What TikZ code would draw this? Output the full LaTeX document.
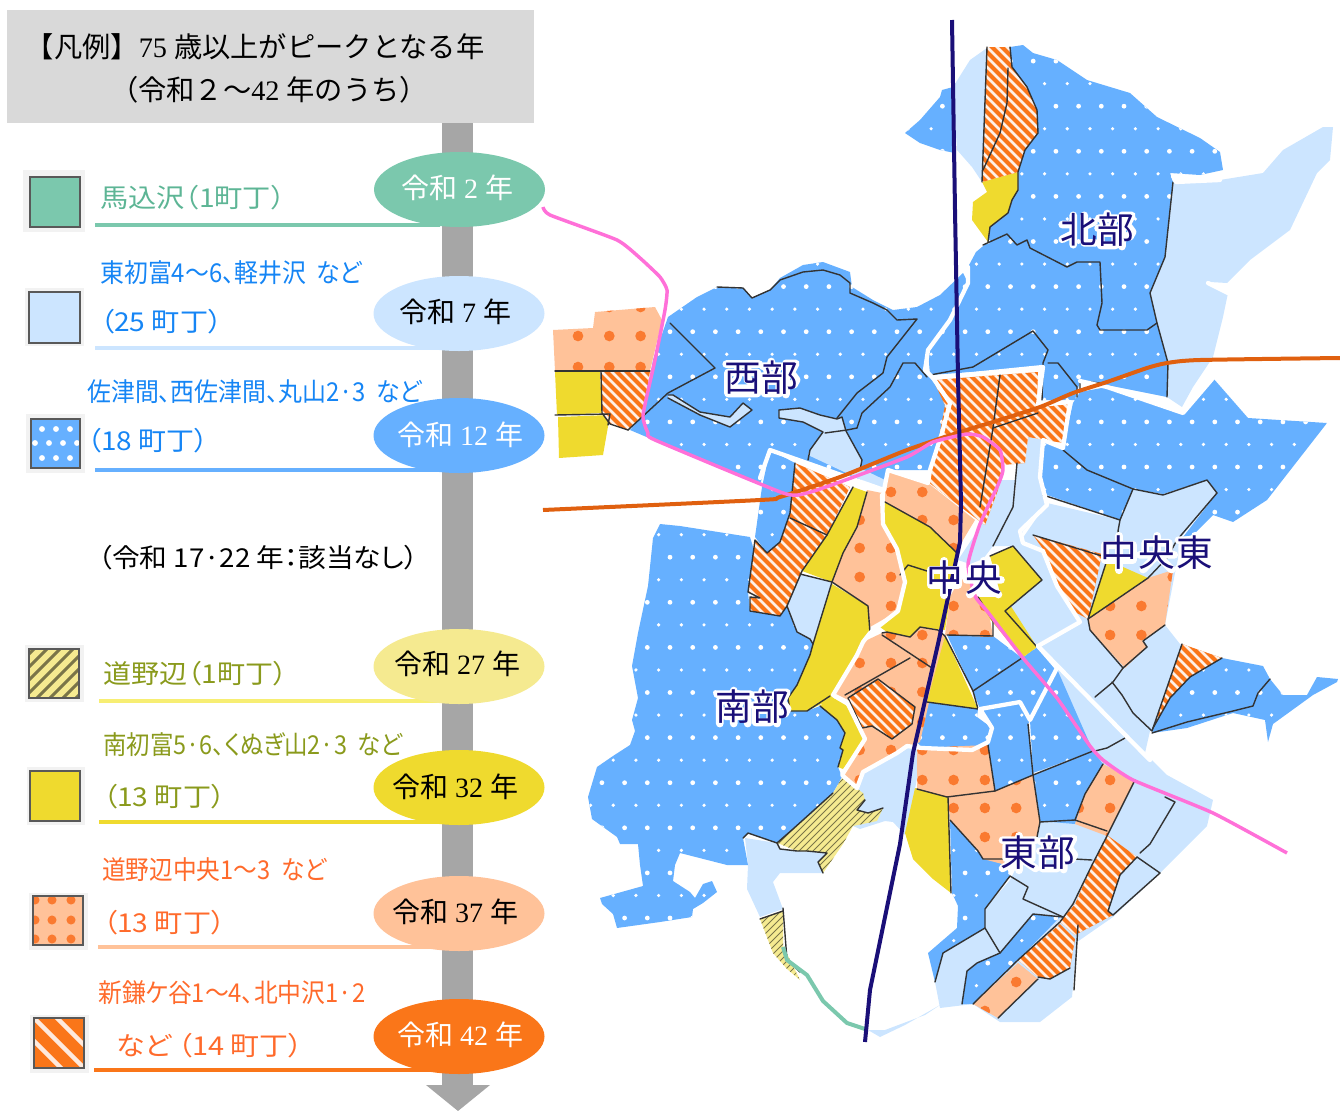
\documentclass[tikz,border=0pt]{standalone}
\usepackage{fontspec}
\usepackage{graphicx}
\setmainfont{Liberation Serif}
\newfontfamily\jp{Noto Sans CJK JP}
\newfontfamily\jpp[RawFeature=+palt]{Noto Sans CJK JP}
\definecolor{cGreen}{HTML}{7BC8AD}
\definecolor{cLight}{HTML}{CCE5FF}
\definecolor{cBlue}{HTML}{66B0FF}
\definecolor{cPaleY}{HTML}{F5EA90}
\definecolor{cYellow}{HTML}{EFDA2E}
\definecolor{cPaleO}{HTML}{FFC299}
\definecolor{cOrange}{HTML}{FA7619}
\definecolor{cDot}{HTML}{FA7A30}
\definecolor{cNavy}{HTML}{1A0F78}
\definecolor{cRoad}{HTML}{E0600F}
\definecolor{cPink}{HTML}{FF70D8}
\definecolor{cTrunk}{HTML}{A6A6A6}
\definecolor{cHead}{HTML}{D9D9D9}
\definecolor{tGreen}{HTML}{5DB595}
\definecolor{tBlue}{HTML}{1585F5}
\definecolor{tOlive}{HTML}{8A9A1C}
\definecolor{tOrange}{HTML}{FF6A2B}
\newcommand\pg[1]{plot[sharp plot] coordinates {#1} -- cycle}
\newcommand\bl[1]{\draw[mapline] plot[sharp plot] coordinates {#1};}
\newcommand\wl[1]{\draw[wline] plot[sharp plot] coordinates {#1};}
\newcommand\J[1]{{\jp #1}}
% ---------- map regions
\newcommand\lightA{
 \pg{(953,87)(970,60)(987,48)(982,182)(972,167)(957,150)}
 \pg{(1173,182)(1220,180)(1263,173)(1283,150)(1323,127)(1333,127)(1330,160)(1317,173)(1290,230)(1250,260)(1227,283)(1210,282)(1228,293)(1223,317)(1213,357)(1193,387)(1182,407)(1167,397)(1168,363)(1157,323)(1150,293)(1165,257)}
 \pg{(1047,503)(1120,520)(1133,489)(1163,494)(1207,480)(1217,493)(1183,535)(1175,573)(1165,625)(1180,644)(1222,658)(1150,731)(1145,753)(1167,775)(1213,800)(1207,826)(1160,873)(1113,917)(1077,942)(1072,997)(1040,1022)(1000,1022)(973,1004)(940,1008)(935,982)(943,953)(985,928)(985,909)(1010,880)(1040,820)(1040,740)(1057,669)(1038,646)(1080,622)(1057,586)(1043,551)(1020,542)}
 \pg{(940,1005)(905,1025)(880,1037)(868,1030)(885,1030)(925,1015)}
 \pg{(858,791)(863,772)(897,755)(913,745)(923,746)(915,789)(905,835)(893,822)(885,821)(860,829)(853,826)}
 \pg{(745,838)(777,843)(780,849)(797,851)(827,853)(818,862)(823,873)(780,873)(773,882)(783,909)(760,917)(747,889)(748,865)}
 \pg{(800,574)(832,582)(813,644)(810,639)(797,632)(787,606)}
}
\newcommand\lightB{
 \pg{(668,395)(673,395)(700,412)(730,417)(743,403)(752,410)(730,427)(700,415)(668,398)}
 \pg{(779,410)(800,408)(820,415)(837,419)(842,417)(846,431)(862,460)(860,468)(885,480)(887,492)(840,470)(808,455)(810,450)(823,433)(803,422)(779,418)}
 \pg{(958,560)(980,527)(987,502)(997,480)(1015,480)(1015,502)(993,546)(983,559)(970,564)}
 \pg{(1017,463)(1025,463)(1028,437)(1043,440)(1040,477)(1047,505)(1023,531)(1020,542)(1043,551)(1057,586)(1080,622)(1038,646)(1005,611)(1042,580)(1013,546)(993,546)(1015,502)}
}
\newcommand\blueregs{
 \pg{(668,317)(697,297)(717,287)(743,288)(752,298)(770,290)(780,278)(803,265)(823,262)(850,272)(852,287)(873,300)(893,310)(917,307)(940,295)(963,273)(968,283)(950,320)(928,350)(925,370)(933,378)(950,403)(942,433)(930,470)(888,470)(884,490)(770,450)(760,485)(630,430)(643,415)(653,360)}
 \pg{(1010,47)(1023,45)(1033,53)(1057,60)(1087,80)(1130,93)(1157,117)(1200,138)(1220,152)(1223,170)(1200,175)(1170,173)(1173,182)(1165,257)(1150,293)(1157,323)(1168,363)(1167,397)(1107,385)(1080,381)(1075,400)(1042,400)(1043,367)(930,375)(928,350)(950,320)(968,283)(968,267)(976,252)(988,242)(990,227)(1008,213)(1012,200)(1018,190)(1018,172)(1025,150)(1038,133)(1037,110)(1027,87)(1012,67)}
 \pg{(905,133)(920,120)(940,97)(942,90)(953,87)(955,153)(940,150)(920,143)}
 \pg{(1080,392)(1107,387)(1183,413)(1213,378)(1248,418)(1327,423)(1267,500)(1233,522)(1213,515)(1193,535)(1183,537)(1217,493)(1207,480)(1163,494)(1133,489)(1120,520)(1047,495)(1040,477)(1043,440)(1063,448)(1073,403)}
 \pg{(770,450)(795,463)(790,513)(780,542)(767,553)(755,537)(762,487)}
 \pg{(660,524)(680,526)(750,537)(755,553)(748,592)(750,611)(780,616)(787,606)(797,632)(810,639)(813,644)(810,655)(797,685)(788,698)(790,711)(807,711)(820,706)(837,720)(845,733)(840,748)(843,750)(838,767)(842,777)(833,793)(810,815)(793,829)(777,843)(748,833)(743,838)(748,865)(727,865)(680,853)(675,865)(673,881)(690,892)(695,898)(703,884)(712,881)(717,892)(703,903)(693,909)(692,917)(660,922)(617,928)(613,914)(602,904)(600,898)(643,886)(640,865)(638,844)(620,844)(617,837)(592,819)(588,797)(597,767)(613,756)(630,745)(635,731)(632,720)(638,698)(632,666)(638,633)(648,586)(653,538)}
 \pg{(947,635)(993,636)(1022,658)(973,691)}
 \pg{(973,691)(1022,658)(1037,647)(1057,668)(1030,720)(1020,702)(980,709)}
 \pg{(927,702)(978,709)(977,717)(992,728)(988,740)(972,750)(922,748)(917,742)}
 \pg{(980,709)(1020,702)(1030,720)(1028,724)(1033,775)(995,791)(988,745)(992,728)}
 \pg{(1030,720)(1057,669)(1093,751)(1033,773)}
 \pg{(1033,775)(1093,751)(1103,764)(1085,794)(1075,824)(1040,821)}
 \pg{(950,820)(975,846)(980,853)(1003,859)(1010,876)(985,909)(985,928)(943,953)(935,982)(928,953)(957,928)(958,906)(952,893)}
 \pg{(1060,917)(1018,960)(973,1004)(962,1004)(967,971)(977,963)(1000,953)(1033,914)}
 \pg{(1222,658)(1263,666)(1270,679)(1283,695)(1307,695)(1317,677)(1338,679)(1337,682)(1313,695)(1273,724)(1268,742)(1265,720)(1233,713)(1187,728)(1152,733)(1153,728)(1170,698)(1190,677)}
}
\newcommand\paleregs{
 \pg{(553,330)(593,328)(595,312)(655,307)(662,320)(650,371)(555,371)}
 \pg{(867,490)(882,493)(883,524)(897,549)(905,582)(898,611)(870,627)(868,606)(832,582)(843,553)(857,527)}
 \pg{(882,633)(887,632)(910,637)(920,627)(938,630)(945,636)(930,698)(920,742)(913,745)(897,753)(863,772)(857,788)(842,775)(865,739)(847,702)(833,695)(857,655)(863,642)}
 \pg{(888,470)(928,483)(975,520)(963,540)(957,553)(930,527)(885,502)(885,490)}
 \pg{(950,597)(945,635)(993,637)(990,619)(978,597)(970,584)(960,578)}
 \pg{(948,797)(995,791)(1033,775)(1040,822)(1037,837)(1010,866)(983,859)(978,851)(950,820)}
 \pg{(917,748)(988,745)(995,791)(947,797)(917,789)}
 \pg{(1103,764)(1135,780)(1107,836)(1075,824)(1085,794)}
 \pg{(1088,619)(1148,578)(1173,570)(1165,625)(1143,641)(1147,647)(1125,668)(1090,630)}
 \pg{(1018,963)(1038,979)(998,1018)(973,1004)}
}
\newcommand\yellowregs{
 \pg{(555,372)(600,372)(602,413)(557,415)}
 \pg{(558,417)(610,415)(603,455)(559,458)}
 \pg{(1018,172)(1018,190)(1012,200)(1008,213)(990,227)(988,242)(972,220)(973,202)(987,192)(982,182)}
 \pg{(853,487)(867,492)(857,527)(843,553)(832,582)(802,571)(827,535)}
 \pg{(832,584)(868,606)(870,633)(857,655)(833,698)(817,706)(807,711)(790,711)(788,698)(797,685)(810,655)(813,644)}
 \pg{(820,706)(830,696)(847,706)(865,740)(843,769)(838,767)(843,750)(840,748)(845,733)(837,720)}
 \pg{(885,502)(930,527)(957,553)(945,630)(920,627)(910,637)(887,632)(880,627)(898,611)(905,582)(897,549)(883,524)}
 \pg{(990,556)(1013,546)(1042,580)(1005,611)}
 \pg{(977,597)(1005,597)(1037,647)(1022,658)(990,619)}
 \pg{(945,636)(978,709)(927,702)}
 \pg{(915,788)(948,797)(951,893)(933,879)(913,859)(905,833)}
 \pg{(1107,560)(1148,578)(1088,619)}
}
\newcommand\hatchregs{
 \pg{(601,371)(650,371)(643,415)(628,430)(610,424)(602,413)}
 \pg{(987,47)(1010,47)(1012,67)(1027,87)(1037,110)(1038,133)(1025,150)(1018,172)(982,182)}
 \pg{(933,380)(1038,372)(1037,405)(1070,403)(1063,443)(1028,437)(1025,463)(1003,465)(998,490)(985,525)(978,520)(928,482)(938,443)(945,405)}
 \pg{(795,463)(850,487)(827,535)(802,571)(787,606)(780,616)(750,611)(750,597)(760,598)(748,592)(755,540)(767,553)(780,542)(790,513)}
 \pg{(848,698)(878,679)(915,707)(912,724)(892,739)(872,726)(862,728)}
 \pg{(1033,535)(1102,554)(1088,619)(1073,611)(1053,575)(1043,549)}
 \pg{(1182,644)(1222,658)(1190,677)(1170,698)(1153,728)}
 \pg{(1107,835)(1137,857)(1120,875)(1108,911)(1113,915)(1075,935)(1060,922)(1075,904)(1092,865)}
 \pg{(1060,924)(1075,939)(1070,968)(1050,979)(1038,977)(1018,960)}
}
\newcommand\paleyregs{
 \pg{(842,778)(863,793)(865,800)(857,810)(868,813)(883,808)(877,821)(853,826)(843,844)(823,873)(818,862)(827,853)(807,851)(797,851)(780,844)(777,843)(793,829)(810,815)(833,793)}
 \pg{(760,919)(783,911)(783,946)(800,980)(787,969)(773,953)}
}
% ---------- white halo skeletons, in a unit em box
\newcommand\gKita{(.35,.1)--(.35,.9) (.65,.1)--(.65,.85)--(.95,.85) (.05,.35)--(.35,.35) (.05,.75)--(.35,.6) (.65,.4)--(.92,.28)}
\newcommand\gBu{(.28,.05)--(.28,.15) (.05,.18)--(.55,.18) (.15,.25)--(.22,.42) (.45,.25)--(.38,.42) (.03,.45)--(.58,.45) (.1,.58)--(.5,.58)--(.5,.92)--(.1,.92)--cycle (.68,.95)--(.68,.1)--(.95,.1)--(.82,.35)--(.97,.55)--(.9,.68)--(.8,.66)}
\newcommand\gNishi{(.05,.12)--(.95,.12) (.1,.35)--(.9,.35)--(.9,.92)--(.1,.92)--cycle (.37,.12)--(.37,.5)--(.2,.68) (.63,.12)--(.63,.55)--(.8,.62) (.1,.78)--(.9,.78)}
\newcommand\gMinami{(.05,.15)--(.95,.15) (.5,.05)--(.5,.3) (.12,.95)--(.12,.32)--(.88,.32)--(.88,.95) (.35,.45)--(.45,.55) (.65,.45)--(.55,.55) (.28,.6)--(.72,.6) (.28,.75)--(.72,.75) (.5,.6)--(.5,.95)}
\newcommand\gNaka{(.12,.28)--(.88,.28)--(.88,.68)--(.12,.68)--cycle (.5,.03)--(.5,.97)}
\newcommand\gOu{(.5,.03)--(.5,.55) (.18,.55)--(.18,.22)--(.82,.22)--(.82,.55) (.03,.55)--(.97,.55) (.5,.55)--(.12,.95) (.5,.55)--(.9,.95)}
\newcommand\gHigashi{(.05,.15)--(.95,.15) (.5,.03)--(.5,.97) (.15,.3)--(.85,.3)--(.85,.65)--(.15,.65)--cycle (.15,.47)--(.85,.47) (.45,.65)--(.05,.92) (.55,.65)--(.95,.92)}
\newcommand\halo[3]{\begin{scope}[shift={(#1-18.3,#2-18.3)},x=27.5pt,y=-27.5pt]\draw[halostroke] #3;\end{scope}}
\tikzset{
 mapline/.style={draw=black!80,line width=1.05pt,line join=round,line cap=round},
 wline/.style={draw=white,line width=3.2pt,line join=round,line cap=round},
 road/.style={line width=3pt,line join=round,line cap=butt},
 swbg/.style={fill=black!5,draw=none},
 swbox/.style={draw=black!65,line width=0.9pt},
 eratext/.style={inner sep=0pt,font=\fontsize{21pt}{21pt}\selectfont},
 ltxt/.style={anchor=west,inner sep=0pt,font=\jpp\fontsize{19.5pt}{19.5pt}\selectfont},
 bar/.style={line width=2.6pt,line cap=butt},
 maplab/.style={inner sep=0pt,text=cNavy,font=\jp\fontsize{27.5pt}{27.5pt}\selectfont},
 halostroke/.style={draw=white,line width=5.8pt,line join=round,line cap=round},
}
% legend text: name, x, y, colour, width in px, text
\newcommand\lt[6]{\node[ltxt,text=#4] (#1) at (#2,#3) {\resizebox{\dimexpr#5pt*3/4\relax}{\height}{#6}};}
\newcommand\era[6]{\fill[#5] (459,#2) ellipse [x radius=85.5,y radius=37.5];
 \node[eratext,text=#6] (#1) at (#3,#4) {#1text};}
\begin{document}
\begin{tikzpicture}[x=0.75pt,y=-0.75pt]
\useasboundingbox (0,0) rectangle (1340,1111);
% ---- trunk
\fill[cTrunk] (442,123) rectangle (473,1085);
\fill[cTrunk] (426,1085) -- (490,1085) -- (458,1111) -- cycle;
% ---- header
\node[fill=cHead,minimum width=395.25pt,minimum height=84.75pt,inner sep=0pt] (head) at (270.5,66.5) {};
\node[inner sep=0pt,font=\fontsize{21.2pt}{21.2pt}\selectfont] (head1) at (255,47) {\J{【凡例】}75 \J{歳以上がピークとなる年}};
\node[inner sep=0pt,font=\fontsize{21.2pt}{21.2pt}\selectfont] (head2) at (269,90) {\J{（令和２～}42 \J{年のうち）}};
% ---- bars
\draw[bar,cGreen] (95,225) -- (440,225);
\draw[bar,cLight] (95,348) -- (440,348);
\draw[bar,cBlue] (95,470) -- (440,470);
\draw[bar,cPaleY!80!yellow] (99,701) -- (440,701);
\draw[bar,cYellow] (99,822) -- (440,822);
\draw[bar,cPaleO] (98,947) -- (440,947);
\draw[bar,cOrange] (94,1070) -- (440,1070);
% ---- era ellipses
\fill[cGreen] (459.5,189.5) ellipse [x radius=85.5,y radius=37.5];
\fill[cLight] (459,313.5) ellipse [x radius=85.5,y radius=37.5];
\fill[cBlue] (459,435.5) ellipse [x radius=85.5,y radius=37.5];
\fill[cPaleY] (459,666.5) ellipse [x radius=85.5,y radius=37.5];
\fill[cYellow] (459,787.5) ellipse [x radius=85.5,y radius=37.5];
\fill[cPaleO] (459,913.5) ellipse [x radius=85.5,y radius=37.5];
\fill[cOrange] (459,1036.5) ellipse [x radius=85.5,y radius=37.5];
\node[eratext,text=white] (e2) at (457,188) {\J{令和} 2 \J{年}};
\node[eratext] (e7) at (455,312) {\J{令和} 7 \J{年}};
\node[eratext,text=white] (e12) at (460,435) {\J{令和} 12 \J{年}};
\node[eratext] (e27) at (457,664) {\J{令和} 27 \J{年}};
\node[eratext] (e32) at (455,787) {\J{令和} 32 \J{年}};
\node[eratext] (e37) at (455,912) {\J{令和} 37 \J{年}};
\node[eratext,text=white] (e42) at (460,1035) {\J{令和} 42 \J{年}};
% ---- swatches
\fill[swbg] (23,170) rectangle (85,232);
\filldraw[swbox,fill=cGreen] (30,177) rectangle (80,227);
\fill[swbg] (25,288) rectangle (84,346);
\filldraw[swbox,fill=cLight] (29,292) rectangle (80,343);
\fill[swbg] (26,414) rectangle (85,473);
\fill[cBlue] (31,419) rectangle (80,468);
\begin{scope}
\clip (31,419) rectangle (80,468);
\fill[white] (42,429) circle (2.2pt) (56,429) circle (2.2pt) (70,429) circle (2.2pt)
 (35,443) circle (2.2pt) (49,443) circle (2.2pt) (63,443) circle (2.2pt) (77,443) circle (2.2pt)
 (42,458) circle (2.2pt) (56,458) circle (2.2pt) (70,458) circle (2.2pt);
\end{scope}
\draw[swbox] (31,419) rectangle (80,468);
\fill[swbg] (25,645) rectangle (84,702);
\fill[cPaleY] (29,649) rectangle (79,698);
\begin{scope}
\clip (29,649) rectangle (79,698);
\foreach \c in {30,43,...,170} {\draw[black!50!cPaleY,line width=2.2pt] (\c,640) -- (\c-70,710);}
\end{scope}
\draw[swbox] (29,649) rectangle (79,698);
\fill[swbg] (27,767) rectangle (85,825);
\filldraw[swbox,fill=cYellow] (30,771) rectangle (80,821);
\fill[swbg] (29,893) rectangle (88,950);
\fill[cPaleO] (33,896) rectangle (83,945);
\begin{scope}
\clip (33,896) rectangle (83,945);
\fill[cDot] (35,900) circle (3.4pt) (52,900) circle (3.4pt) (71,900) circle (3.4pt)
 (35,920) circle (3.4pt) (52,920) circle (3.4pt) (71,920) circle (3.4pt)
 (35,939) circle (3.4pt) (52,939) circle (3.4pt) (71,939) circle (3.4pt);
\end{scope}
\draw[swbox] (33,896) rectangle (83,945);
\fill[swbg] (30,1015) rectangle (89,1073);
\fill[cOrange] (34,1018) rectangle (84,1068);
\begin{scope}
\clip (34,1018) rectangle (84,1068);
\foreach \c in {-1007,-984,-961} {\draw[white!85!cOrange,line width=3.2pt] (\c+1000,1000) -- (\c+1090,1090);}
\end{scope}
\draw[swbox] (34,1018) rectangle (84,1068);
% ---- legend texts
\lt{t1}{100}{198}{tGreen}{185}{馬込沢（1町丁）}
\lt{t2}{100}{273}{tBlue}{262}{東初富4～6、軽井沢\ \ など}
\lt{t3}{100}{322}{tBlue}{122}{（25 町丁）}
\lt{t4}{87}{392}{tBlue}{335}{佐津間、西佐津間、丸山2·3\ \ など}
\lt{t5}{87}{441}{tBlue}{121}{（18 町丁）}
\lt{t6}{98}{558}{black}{320}{（令和 17·22 年：該当なし）}
\lt{t7}{103}{674}{tOlive}{184}{道野辺（1町丁）}
\lt{t8}{103}{745}{tOlive}{299}{南初富5·6、くぬぎ山2·3\ \ など}
\lt{t9}{103}{797}{tOlive}{122}{（13 町丁）}
\lt{t10}{102}{870}{tOrange}{224}{道野辺中央1～3\ \ など}
\lt{t11}{103}{923}{tOrange}{122}{（13 町丁）}
\lt{t12}{98}{993}{tOrange}{267}{新鎌ケ谷1～4、北中沢1·2}
\lt{t13}{116}{1046}{tOrange}{187}{など （14 町丁）}
% ---- map fills
\fill[cLight] \lightA;
\fill[cBlue] \blueregs;
\begin{scope}
\clip \blueregs;
\foreach \k in {-13,-11,...,29} {
 \pgfmathsetmacro\yy{331.7+22.55*\k}
 \fill[white] \foreach \n in {-5,...,28} {({692.7+22.7*\n-11.35},\yy) circle (1.35pt)};
}
\foreach \k in {-14,-12,...,30} {
 \pgfmathsetmacro\yy{331.7+22.55*\k}
 \fill[white] \foreach \n in {-5,...,28} {({692.7+22.7*\n},\yy) circle (1.8pt)};
}
\end{scope}
\fill[cLight] \lightB;
\fill[cPaleO] \paleregs;
\begin{scope}
\clip \paleregs;
\foreach \yy in {307,336,367,492,520,548,577,606,635,663,692,722,750,780,808,837,866,895,924,953,982,1011} {
 \fill[cDot] \foreach \n in {0,...,20} {({578+31.3*\n},\yy) circle (4pt)};
}
\end{scope}
\fill[cPaleY] \paleyregs;
\begin{scope}
\clip \paleyregs;
\foreach \c in {880,887,...,1120} {\draw[black!50!cPaleY,line width=0.55pt] (\c,700) -- (\c-300,1000);}
\end{scope}
\fill[cYellow] \yellowregs;
\fill[cOrange] \hatchregs;
\begin{scope}
\clip \hatchregs;
\foreach \c in {-600,-590,...,1340} {\draw[white!90!cOrange,line width=1.9pt] (\c,0) -- (\c+1111,1111);}
\end{scope}
% ---- boundary lines
\bl{(670,323)(715,368)(668,393)(628,430)}
\bl{(717,287)(743,288)(752,298)(770,290)(780,280)(803,272)(823,270)(840,275)(850,283)(850,293)(873,303)(887,310)(897,320)(917,319)(887,357)(883,373)(857,393)(837,418)}
\bl{(857,428)(862,413)(890,387)(903,363)(915,363)(927,377)}
\bl{(668,395)(673,395)(700,412)(730,417)(743,403)(752,410)(730,427)(700,415)(668,398)}
\bl{(779,410)(779,418)(803,422)(823,432)(810,450)(808,460)}
\bl{(779,410)(800,408)(820,415)(837,419)(842,417)(846,431)(862,460)(860,470)}
\bl{(825,433)(847,430)(857,428)}
\bl{(555,371)(650,371)}
\bl{(601,371)(602,413)(610,424)(628,430)}
\bl{(555,415)(610,414)(608,425)}
\bl{(987,47)(982,182)}
\bl{(1010,47)(1012,67)(1027,87)(1037,110)(1038,133)(1025,150)(1018,172)(1018,190)(1012,200)(1008,213)(990,227)(988,242)}
\bl{(1008,68)(1007,103)(1000,133)(983,170)}
\bl{(983,245)(1007,234)(1017,245)(1027,240)(1030,248)(1067,267)(1077,262)(1100,262)(1102,303)(1097,325)(1100,330)(1147,330)(1157,323)}
\bl{(1173,182)(1165,257)(1150,293)(1157,323)(1168,363)(1167,397)}
\bl{(930,375)(973,367)(1033,331)(1048,350)(1043,363)(1042,400)}
\bl{(1048,363)(1058,363)(1077,387)(1077,397)}
\bl{(1080,390)(1080,381)(1100,383)}
\bl{(1000,375)(993,428)(980,507)}
\bl{(993,428)(1038,413)}
\bl{(1017,463)(1013,507)(993,546)}
\bl{(795,463)(790,513)(780,542)(767,553)(755,540)(748,592)(760,598)(750,597)(750,611)(780,616)(787,606)(797,632)(810,639)(813,644)(810,655)(797,685)(788,698)(790,711)(807,711)(830,696)}
\bl{(790,518)(827,535)}
\bl{(853,487)(827,535)(802,571)(787,606)}
\bl{(867,492)(857,527)(843,553)(832,582)(813,644)}
\bl{(800,574)(832,582)(868,606)(870,633)}
\bl{(820,706)(837,720)(845,733)(840,748)(843,750)(838,767)}
\bl{(833,793)(793,829)(777,843)(748,833)(743,838)}
\bl{(777,843)(780,849)(797,851)(807,851)(827,853)(818,862)(823,873)}
\bl{(760,919)(783,911)}
\bl{(783,908)(787,960)(800,972)}
\bl{(865,800)(857,810)(868,813)(883,808)}
\bl{(882,633)(887,632)(910,637)(920,627)(938,630)(945,636)}
\bl{(882,635)(932,668)}
\bl{(845,695)(910,658)}
\bl{(878,679)(915,707)(912,724)(892,739)(872,726)(862,728)(848,698)(878,679)}
\bl{(885,502)(930,527)(957,553)}
\bl{(900,575)(908,565)(927,571)}
\bl{(945,636)(973,691)(978,709)(927,702)}
\bl{(947,635)(993,636)(993,621)(978,597)}
\bl{(973,691)(1022,658)}
\bl{(990,556)(1013,546)(1042,580)(1005,611)(1037,647)}
\bl{(1028,724)(1033,775)}
\bl{(988,745)(995,791)}
\bl{(917,789)(947,797)(995,791)(1033,775)(1093,751)}
\bl{(1033,775)(1040,822)(1037,837)(1010,866)}
\bl{(948,797)(951,893)}
\bl{(950,820)(978,851)(983,859)(1003,859)(1010,866)}
\bl{(1095,751)(1107,748)(1125,738)}
\bl{(1135,780)(1107,836)(1092,865)(1073,904)(1060,922)(1018,960)(973,1004)}
\bl{(935,982)(943,953)(985,928)(1000,953)}
\bl{(985,928)(985,909)(1010,876)(1028,887)(1023,899)(1063,917)}
\bl{(962,1004)(967,971)(977,963)(1000,953)(1033,914)(1063,917)}
\bl{(1075,859)(1092,860)}
\bl{(1107,831)(1075,820)(1040,822)}
\bl{(1075,820)(1085,794)(1103,764)}
\bl{(1140,853)(1150,844)(1175,802)(1165,797)}
\bl{(1137,857)(1160,873)}
\bl{(1120,875)(1108,911)(1113,915)(1160,873)}
\bl{(1137,857)(1120,875)}
\bl{(998,1018)(1038,979)}
\bl{(1038,977)(1050,979)(1070,968)}
\bl{(1043,495)(1120,520)(1133,489)}
\bl{(1120,520)(1118,531)(1120,538)}
\bl{(1063,450)(1087,470)(1133,489)(1163,495)(1207,480)(1217,493)(1177,540)(1167,558)(1148,578)}
\bl{(1033,535)(1102,556)}
\bl{(1107,560)(1088,619)(1148,578)}
\bl{(1088,619)(1090,630)(1123,668)(1113,682)(1095,697)}
\bl{(1147,647)(1143,641)(1165,625)}
\bl{(1123,668)(1147,647)}
\bl{(1112,682)(1122,695)(1133,713)(1152,731)(1153,728)(1182,644)}
\bl{(1152,733)(1187,722)(1233,711)(1253,706)(1258,693)(1270,679)}
\bl{(1153,728)(1170,698)(1190,677)(1222,658)}
\bl{(1078,925)(1074,990)}
% ---- white boundaries
\wl{(968,267)(968,283)(950,320)(928,350)(925,370)(933,378)(950,403)(942,433)(930,470)(928,483)(888,470)(884,490)(770,450)(760,478)}
\wl{(933,378)(1043,367)(1038,405)(1070,402)(1063,448)(1043,440)(1040,477)(1047,505)(1020,531)(1023,543)(1043,551)(1057,586)(1080,622)(1038,646)(1057,668)(1030,720)(1020,702)(980,709)(992,728)(988,742)(972,750)(922,748)(907,746)(897,753)(863,772)(857,788)(842,775)(865,739)(847,702)(833,695)(857,655)(863,642)(870,633)(898,611)(905,582)(897,549)(883,524)(882,495)}
\wl{(1038,646)(1140,750)(1150,760)}
\wl{(1080,381)(1107,387)(1183,413)(1213,378)}
\wl{(1173,176)(1176,182)(1220,180)}
\wl{(1208,283)(1228,293)}
% ---- green shore
\draw[cGreen,line width=3pt,line join=round] plot[sharp plot] coordinates {(783,947)(787,960)(807,975)(823,1001)(847,1023)(865,1029)};
% ---- roads
\draw[road,cRoad] plot[smooth,tension=0.4] coordinates {(543,510)(760,500)(780,497)(840,477)(907,450)(960,432)(993,422)(1040,407)(1073,393)(1107,382)(1147,368)(1167,363)(1200,360)(1340,358)};
\draw[road,cPink,line width=2.6pt] plot[smooth,tension=0.3] coordinates {(543,207)(550,215)(617,240)(640,258)(660,277)(667,290)(665,310)(655,360)(643,415)(648,433)(655,440)(783,493)(807,493)(840,482)(907,457)(933,442)(967,434)(983,437)(1000,450)(1003,470)(998,485)(980,524)(968,564)(975,596)(987,611)(1023,658)(1057,698)(1090,746)(1103,760)(1133,780)(1213,813)(1287,853)};
\draw[road,cNavy] plot[sharp plot] coordinates {(952,20)(955,210)(958,377)(961,503)(960,542)(938,644)(913,753)(900,844)(870,990)(865,1042)};
% ---- map labels
\halo{1078.7}{230}{\gKita}\halo{1115.3}{230}{\gBu}
\halo{742.7}{378}{\gNishi}\halo{779.3}{378}{\gBu}
\halo{733.7}{707}{\gMinami}\halo{770.3}{707}{\gBu}
\halo{944.3}{578}{\gNaka}\halo{983.7}{578}{\gOu}
\halo{1119}{553}{\gNaka}\halo{1157}{553}{\gOu}\halo{1195}{553}{\gHigashi}
\halo{1019}{853}{\gHigashi}\halo{1057}{853}{\gBu}
\node[maplab] (north) at (1097,230) {北部};
\node[maplab] (west) at (761,378) {西部};
\node[maplab] (south) at (752,707) {南部};
\node[maplab] (center) at (964,578) {中\kern2pt 央};
\node[maplab] (ceast) at (1157,553) {中\kern1pt 央\kern1pt 東};
\node[maplab] (east) at (1038,853) {東\kern1pt 部};
\end{tikzpicture}
\end{document}
